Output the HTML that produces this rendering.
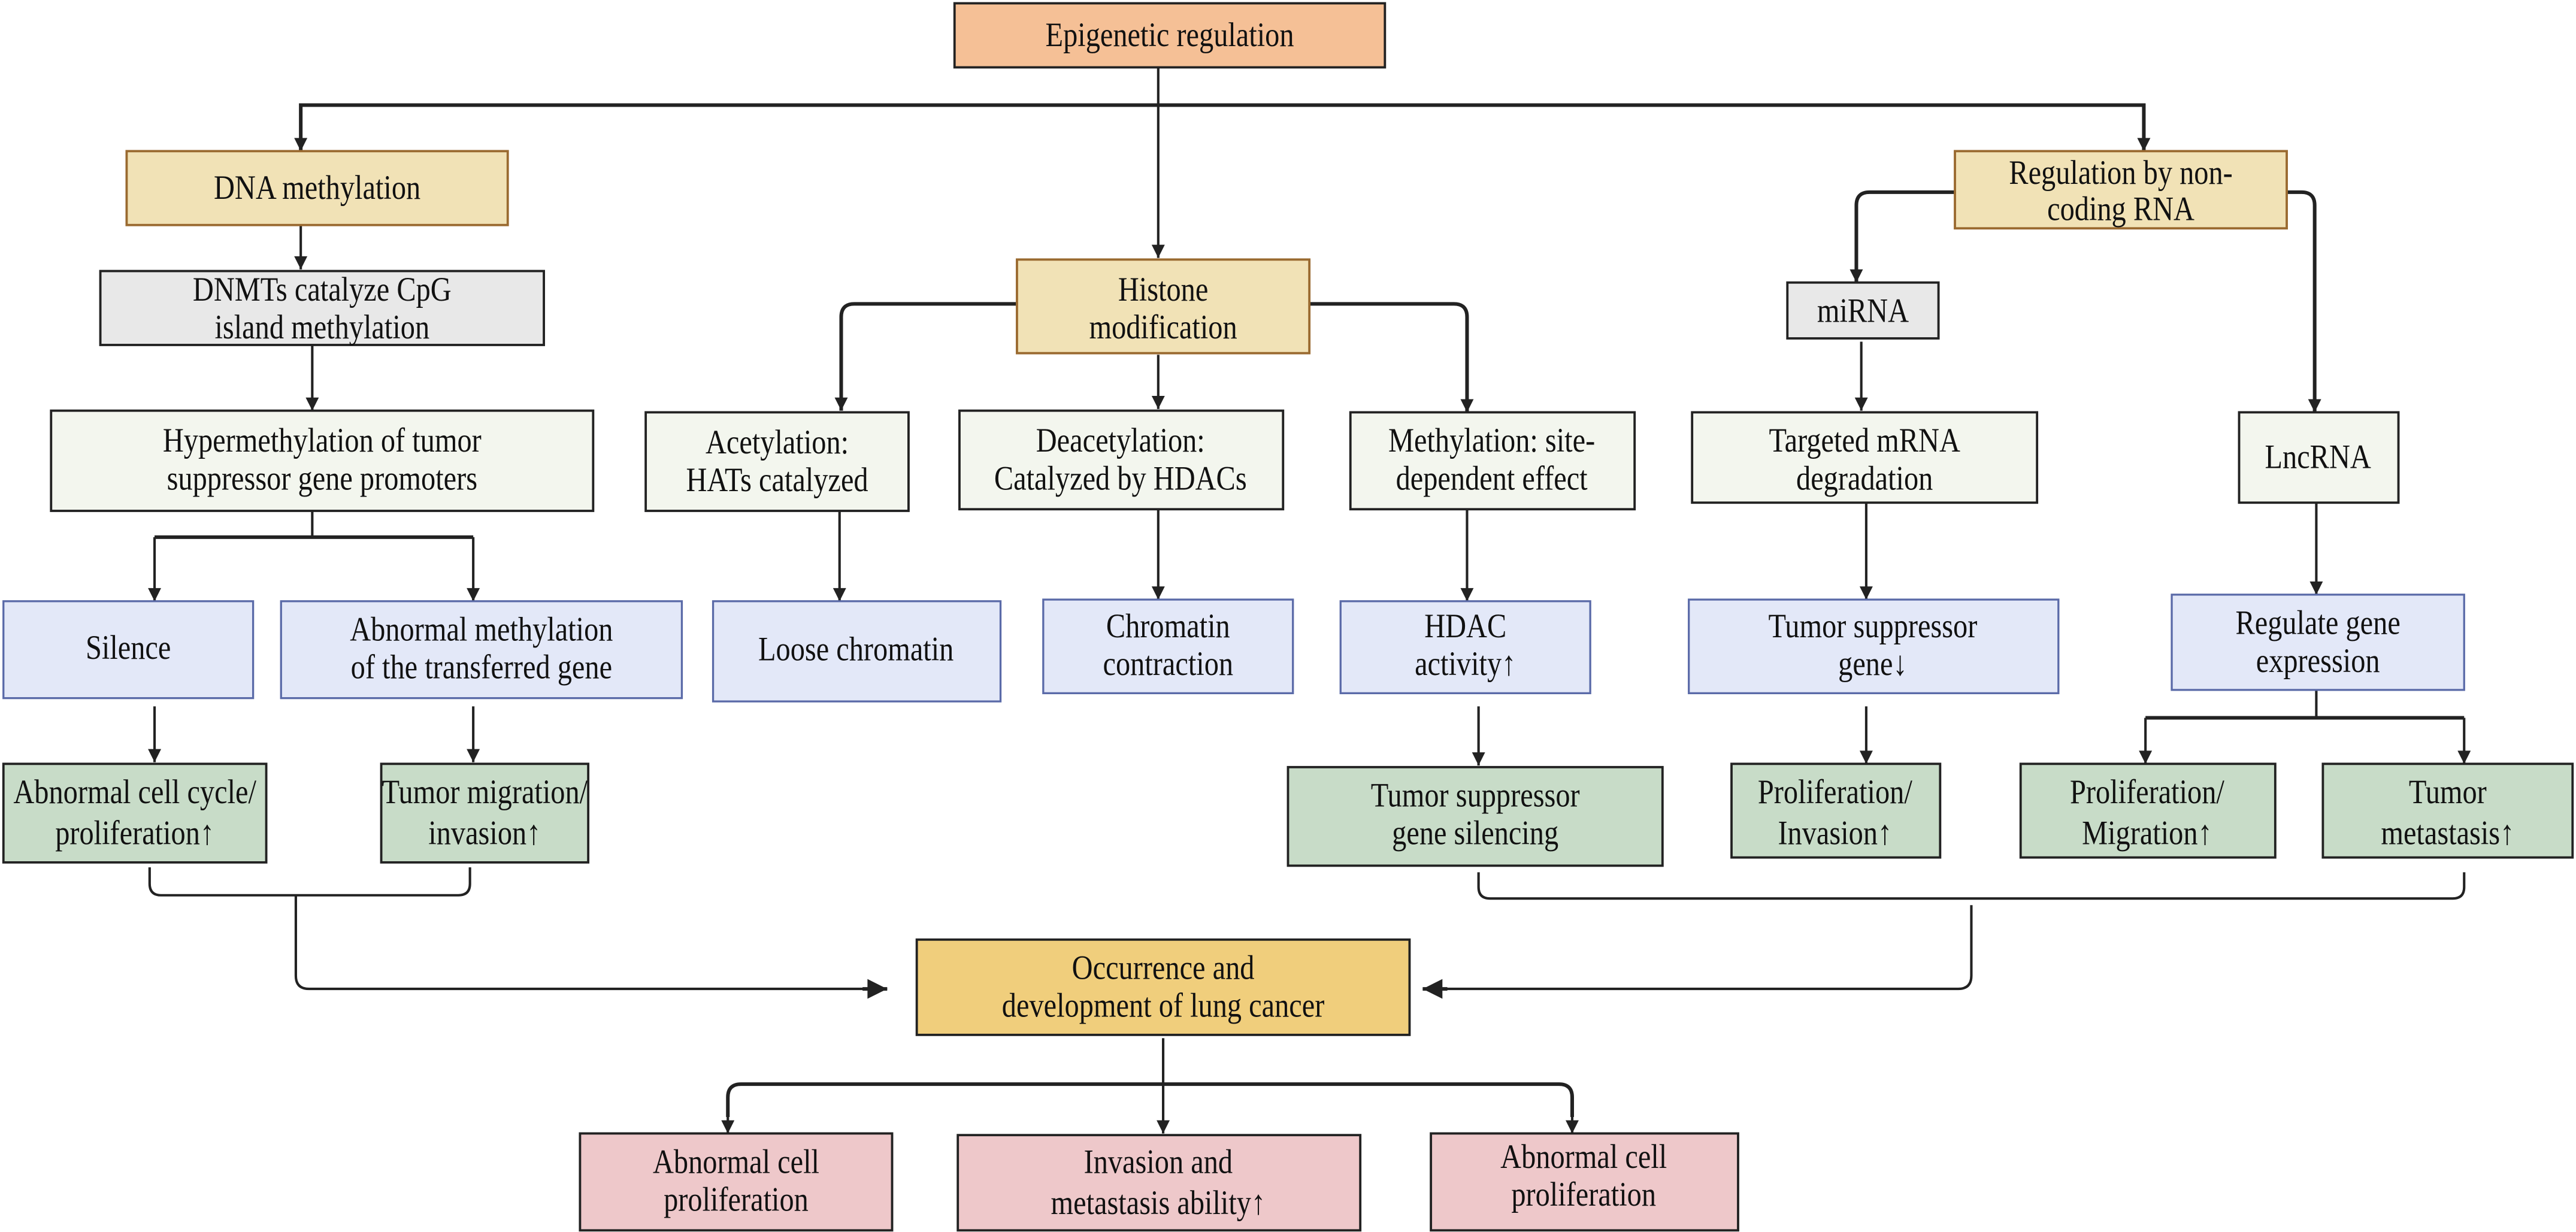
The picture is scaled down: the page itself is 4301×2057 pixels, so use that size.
<!DOCTYPE html>
<html><head><meta charset="utf-8"><style>
html,body{margin:0;padding:0;background:#fff;}
svg{display:block;}
text{font-family:"Liberation Serif","DejaVu Serif","Times New Roman",serif;font-size:21px;fill:#111;text-anchor:middle;}
.b{stroke:#222;stroke-width:1.4;}
.c{fill:none;stroke:#222;stroke-width:2.2;}
.t{fill:none;stroke:#222;stroke-width:1.5;}
</style></head><body>
<svg width="4301" height="2057" viewBox="0 0 1568 750" xmlns="http://www.w3.org/2000/svg" font-family="Liberation Serif, serif">
<defs><marker id="a" viewBox="0 0 10 10" refX="10" refY="5" markerWidth="14" markerHeight="8" markerUnits="userSpaceOnUse" orient="auto"><path d="M0,0L10,5L0,10z" fill="#222"/></marker>
<marker id="A" viewBox="0 0 10 10" refX="10" refY="5" markerWidth="14" markerHeight="12" markerUnits="userSpaceOnUse" orient="auto"><path d="M0,0L10,5L0,10z" fill="#222"/></marker></defs>

<path class="c" d="M183,92 V64 H1305 V92" />
<path class="t" d="M183,78 V92" marker-end="url(#a)"/>
<path class="t" d="M1305,78 V92" marker-end="url(#a)"/>
<path class="t" d="M705,41 V157" marker-end="url(#a)"/>
<path class="t" d="M183,137 V164" marker-end="url(#a)"/>
<path class="t" d="M190,210 V250" marker-end="url(#a)"/>
<path class="t" d="M190,311 V327"/>
<path class="c" d="M94,327 H288"/>
<path class="t" d="M94,327 V366" marker-end="url(#a)"/>
<path class="t" d="M288,327 V366" marker-end="url(#a)"/>
<path class="t" d="M94,430 V464" marker-end="url(#a)"/>
<path class="t" d="M288,430 V464" marker-end="url(#a)"/>
<path class="t" d="M91,528 V538 Q91,545 98,545 H279 Q286,545 286,538 V528"/>
<path class="t" d="M180,545 V594 Q180,602 188,602 H540"/>
<path class="c" d="M525,602 H540" marker-end="url(#A)"/>

<path class="c" d="M619,185 H520 Q512,185 512,193 V250" marker-end="url(#a)"/>
<path class="t" d="M705,216 V249" marker-end="url(#a)"/>
<path class="c" d="M797,185 H885 Q893,185 893,193 V251" marker-end="url(#a)"/>
<path class="t" d="M511,311 V366" marker-end="url(#a)"/>
<path class="t" d="M705,310 V365" marker-end="url(#a)"/>
<path class="t" d="M893,310 V366" marker-end="url(#a)"/>
<path class="t" d="M900,430 V466" marker-end="url(#a)"/>

<path class="c" d="M1190,117 H1138 Q1130,117 1130,125 V172" marker-end="url(#a)"/>
<path class="c" d="M1392,117 H1401 Q1409,117 1409,125 V251" marker-end="url(#a)"/>
<path class="t" d="M1133,208 V250" marker-end="url(#a)"/>
<path class="t" d="M1136,306 V365" marker-end="url(#a)"/>
<path class="t" d="M1410,306 V362" marker-end="url(#a)"/>
<path class="t" d="M1136,430 V465" marker-end="url(#a)"/>
<path class="t" d="M1410,420 V437"/>
<path class="c" d="M1306,437 H1500"/>
<path class="t" d="M1306,437 V465" marker-end="url(#a)"/>
<path class="t" d="M1500,437 V465" marker-end="url(#a)"/>
<path class="t" d="M900,531 V540 Q900,547 907,547 H1493 Q1500,547 1500,540 V531"/>
<path class="t" d="M1200,551 V594 Q1200,602 1192,602 H866"/>
<path class="c" d="M881,602 H866" marker-end="url(#A)"/>

<path class="t" d="M708,632 V690" marker-end="url(#a)"/>
<path class="c" d="M443,680 V668 Q443,660 451,660 H949 Q957,660 957,668 V680"/>
<path class="t" d="M443,676 V690" marker-end="url(#a)"/>
<path class="t" d="M957,676 V690" marker-end="url(#a)"/>

<rect class="b" x="581" y="2" width="262" height="39" fill="#f5c096"/>
<rect x="77" y="92" width="232" height="45" fill="#f1e2b6" stroke="#9a6a30" stroke-width="1.4"/>
<rect class="b" x="61" y="165" width="270" height="45" fill="#e8e8e8"/>
<rect class="b" x="31" y="250" width="330" height="61" fill="#f3f6ee"/>
<rect x="2" y="366" width="152" height="59" fill="#e3e8f8" stroke="#5a6aa8" stroke-width="1.2"/>
<rect x="171" y="366" width="244" height="59" fill="#e3e8f8" stroke="#5a6aa8" stroke-width="1.2"/>
<rect class="b" x="2" y="465" width="160" height="60" fill="#c8dcc8"/>
<rect class="b" x="232" y="465" width="126" height="60" fill="#c8dcc8"/>

<rect x="619" y="158" width="178" height="57" fill="#f1e2b6" stroke="#9a6a30" stroke-width="1.4"/>
<rect class="b" x="393" y="251" width="160" height="60" fill="#f3f6ee"/>
<rect class="b" x="584" y="250" width="197" height="60" fill="#f3f6ee"/>
<rect class="b" x="822" y="251" width="173" height="59" fill="#f3f6ee"/>
<rect x="434" y="366" width="175" height="61" fill="#e3e8f8" stroke="#5a6aa8" stroke-width="1.2"/>
<rect x="635" y="365" width="152" height="57" fill="#e3e8f8" stroke="#5a6aa8" stroke-width="1.2"/>
<rect x="816" y="366" width="152" height="56" fill="#e3e8f8" stroke="#5a6aa8" stroke-width="1.2"/>
<rect class="b" x="784" y="467" width="228" height="60" fill="#c8dcc8"/>

<rect x="1190" y="92" width="202" height="47" fill="#f1e2b6" stroke="#9a6a30" stroke-width="1.4"/>
<rect class="b" x="1088" y="172" width="92" height="34" fill="#e8e8e8"/>
<rect class="b" x="1030" y="251" width="210" height="55" fill="#f3f6ee"/>
<rect class="b" x="1363" y="251" width="97" height="55" fill="#f3f6ee"/>
<rect x="1028" y="365" width="225" height="57" fill="#e3e8f8" stroke="#5a6aa8" stroke-width="1.2"/>
<rect x="1322" y="362" width="178" height="58" fill="#e3e8f8" stroke="#5a6aa8" stroke-width="1.2"/>
<rect class="b" x="1054" y="465" width="127" height="57" fill="#c8dcc8"/>
<rect class="b" x="1230" y="465" width="155" height="57" fill="#c8dcc8"/>
<rect class="b" x="1414" y="465" width="152" height="57" fill="#c8dcc8"/>

<rect class="b" x="558" y="572" width="300" height="58" fill="#f0ce7c"/>
<rect class="b" x="353" y="690" width="190" height="59" fill="#eec8ca"/>
<rect class="b" x="583" y="691" width="245" height="58" fill="#eec8ca"/>
<rect class="b" x="871" y="690" width="187" height="59" fill="#eec8ca"/>

<g>
<text transform="translate(712,28) scale(.84,1)">Epigenetic regulation</text>
<text transform="translate(193,121) scale(.84,1)">DNA methylation</text>
<text transform="translate(196,183) scale(.84,1)">DNMTs catalyze CpG</text>
<text transform="translate(196,206) scale(.84,1)">island methylation</text>
<text transform="translate(196,275) scale(.84,1)">Hypermethylation of tumor</text>
<text transform="translate(196,298) scale(.84,1)">suppressor gene promoters</text>
<text transform="translate(78,401) scale(.84,1)">Silence</text>
<text transform="translate(293,390) scale(.84,1)">Abnormal methylation</text>
<text transform="translate(293,413) scale(.84,1)">of the transferred gene</text>
<text transform="translate(82,489) scale(.84,1)">Abnormal cell cycle/</text>
<text transform="translate(82,514) scale(.84,1)">proliferation↑</text>
<text transform="translate(295,489) scale(.84,1)">Tumor migration/</text>
<text transform="translate(295,514) scale(.84,1)">invasion↑</text>

<text transform="translate(708,183) scale(.84,1)">Histone</text>
<text transform="translate(708,206) scale(.84,1)">modification</text>
<text transform="translate(473,276) scale(.84,1)">Acetylation:</text>
<text transform="translate(473,299) scale(.84,1)">HATs catalyzed</text>
<text transform="translate(682,275) scale(.84,1)">Deacetylation:</text>
<text transform="translate(682,298) scale(.84,1)">Catalyzed by HDACs</text>
<text transform="translate(908,275) scale(.84,1)">Methylation: site-</text>
<text transform="translate(908,298) scale(.84,1)">dependent effect</text>
<text transform="translate(521,402) scale(.84,1)">Loose chromatin</text>
<text transform="translate(711,388) scale(.84,1)">Chromatin</text>
<text transform="translate(711,411) scale(.84,1)">contraction</text>
<text transform="translate(892,388) scale(.84,1)">HDAC</text>
<text transform="translate(892,411) scale(.84,1)">activity↑</text>
<text transform="translate(898,491) scale(.84,1)">Tumor suppressor</text>
<text transform="translate(898,514) scale(.84,1)">gene silencing</text>

<text transform="translate(1291,112) scale(.84,1)">Regulation by non-</text>
<text transform="translate(1291,134) scale(.84,1)">coding RNA</text>
<text transform="translate(1134,196) scale(.84,1)">miRNA</text>
<text transform="translate(1135,275) scale(.84,1)">Targeted mRNA</text>
<text transform="translate(1135,298) scale(.84,1)">degradation</text>
<text transform="translate(1411,285) scale(.84,1)">LncRNA</text>
<text transform="translate(1140,388) scale(.84,1)">Tumor suppressor</text>
<text transform="translate(1140,411) scale(.84,1)">gene↓</text>
<text transform="translate(1411,386) scale(.84,1)">Regulate gene</text>
<text transform="translate(1411,409) scale(.84,1)">expression</text>
<text transform="translate(1117,489) scale(.84,1)">Proliferation/</text>
<text transform="translate(1117,514) scale(.84,1)">Invasion↑</text>
<text transform="translate(1307,489) scale(.84,1)">Proliferation/</text>
<text transform="translate(1307,514) scale(.84,1)">Migration↑</text>
<text transform="translate(1490,489) scale(.84,1)">Tumor</text>
<text transform="translate(1490,514) scale(.84,1)">metastasis↑</text>

<text transform="translate(708,596) scale(.84,1)">Occurrence and</text>
<text transform="translate(708,619) scale(.84,1)">development of lung cancer</text>
<text transform="translate(448,714) scale(.84,1)">Abnormal cell</text>
<text transform="translate(448,737) scale(.84,1)">proliferation</text>
<text transform="translate(705,714) scale(.84,1)">Invasion and</text>
<text transform="translate(705,739) scale(.84,1)">metastasis ability↑</text>
<text transform="translate(964,711) scale(.84,1)">Abnormal cell</text>
<text transform="translate(964,734) scale(.84,1)">proliferation</text>
</g>
</svg>
</body></html>
